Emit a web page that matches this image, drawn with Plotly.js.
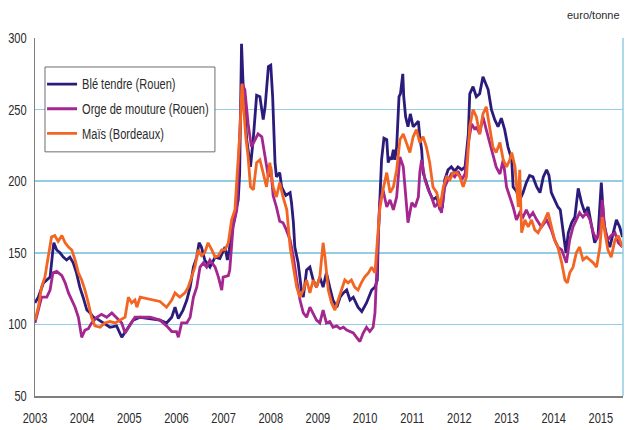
<!DOCTYPE html>
<html>
<head>
<meta charset="utf-8">
<script src="https://cdn.plot.ly/plotly-3.0.1.min.js"></script>
<style>html,body{margin:0;padding:0;background:#fff;}#chart{width:625px;height:430px;}</style>
</head>
<body>
<div id="chart"></div>
<script>
// Time in decimal years
const bleX = [2003.00,2003.07,2003.18,2003.25,2003.32,2003.38,2003.40,2003.46,2003.53,2003.60,2003.67,2003.74,2003.81,2003.88,2003.95,2004.02,2004.10,2004.17,2004.24,2004.31,2004.45,2004.59,2004.73,2004.84,2004.94,2005.08,2005.23,2005.44,2005.65,2005.79,2005.90,2005.97,2006.04,2006.14,2006.22,2006.29,2006.36,2006.43,2006.48,2006.53,2006.60,2006.71,2006.82,2006.92,2007.03,2007.08,2007.12,2007.17,2007.24,2007.31,2007.34,2007.36,2007.38,2007.41,2007.49,2007.57,2007.63,2007.70,2007.77,2007.84,2007.88,2007.95,2008.00,2008.04,2008.09,2008.12,2008.19,2008.23,2008.32,2008.41,2008.44,2008.48,2008.51,2008.58,2008.65,2008.69,2008.76,2008.83,2008.90,2008.97,2009.04,2009.11,2009.18,2009.25,2009.32,2009.40,2009.47,2009.54,2009.61,2009.68,2009.75,2009.85,2009.93,2010.03,2010.14,2010.21,2010.26,2010.28,2010.35,2010.40,2010.46,2010.49,2010.53,2010.56,2010.60,2010.63,2010.67,2010.72,2010.75,2010.80,2010.82,2010.86,2010.91,2010.96,2011.02,2011.08,2011.13,2011.16,2011.20,2011.23,2011.30,2011.37,2011.44,2011.52,2011.59,2011.64,2011.69,2011.76,2011.83,2011.90,2011.97,2012.05,2012.12,2012.19,2012.22,2012.29,2012.36,2012.43,2012.50,2012.56,2012.61,2012.68,2012.75,2012.82,2012.89,2012.96,2013.03,2013.11,2013.14,2013.21,2013.28,2013.35,2013.42,2013.49,2013.56,2013.64,2013.71,2013.78,2013.85,2013.90,2013.95,2014.02,2014.09,2014.14,2014.20,2014.26,2014.31,2014.38,2014.45,2014.52,2014.59,2014.66,2014.73,2014.80,2014.87,2014.94,2015.01,2015.06,2015.12,2015.19,2015.26,2015.33,2015.40,2015.46];
const bleY = [115,119,129,131,133,152,157,152,150,147,145,147,143,136,126,119,110,108,105,104,101,98,99,91,96,103,105,104,103,101,105,112,104,110,117,126,140,147,157,154,145,140,147,146,154,145,152,164,177,187,205,241,296,270,229,210,230,260,259,243,252,280,281,259,213,203,206,196,190,192,185,171,154,143,124,119,138,140,131,126,133,126,136,126,117,112,119,122,124,117,119,112,109,115,124,126,131,161,215,230,229,213,217,215,222,215,224,259,261,275,259,245,238,247,238,240,242,231,222,206,199,192,187,189,180,182,201,208,210,207,210,208,210,233,261,266,259,261,273,268,264,250,243,238,244,236,224,215,196,193,187,192,199,204,203,196,192,203,208,204,192,187,182,180,164,150,164,171,175,195,185,178,182,168,157,162,199,173,160,154,164,173,168,161];

const orgeX = [2003.00,2003.07,2003.14,2003.25,2003.32,2003.38,2003.46,2003.57,2003.64,2003.71,2003.78,2003.85,2003.92,2003.99,2004.06,2004.13,2004.20,2004.31,2004.41,2004.52,2004.63,2004.73,2004.84,2004.91,2005.01,2005.12,2005.23,2005.44,2005.65,2005.79,2005.90,2006.00,2006.04,2006.11,2006.22,2006.29,2006.36,2006.43,2006.50,2006.57,2006.64,2006.71,2006.82,2006.89,2006.96,2006.99,2007.10,2007.13,2007.20,2007.28,2007.35,2007.39,2007.45,2007.52,2007.59,2007.66,2007.73,2007.81,2007.88,2007.95,2008.00,2008.05,2008.12,2008.19,2008.26,2008.33,2008.41,2008.48,2008.55,2008.62,2008.69,2008.76,2008.83,2008.90,2008.97,2009.04,2009.11,2009.18,2009.25,2009.32,2009.40,2009.47,2009.54,2009.61,2009.68,2009.75,2009.82,2009.89,2009.96,2010.03,2010.10,2010.17,2010.21,2010.24,2010.28,2010.31,2010.38,2010.46,2010.53,2010.60,2010.67,2010.74,2010.81,2010.88,2010.91,2010.99,2011.06,2011.13,2011.16,2011.20,2011.27,2011.34,2011.41,2011.48,2011.55,2011.62,2011.69,2011.76,2011.83,2011.90,2011.97,2012.05,2012.12,2012.19,2012.26,2012.33,2012.36,2012.43,2012.50,2012.57,2012.64,2012.71,2012.78,2012.86,2012.93,2013.00,2013.07,2013.14,2013.21,2013.28,2013.35,2013.42,2013.49,2013.56,2013.64,2013.74,2013.85,2013.95,2014.02,2014.09,2014.17,2014.24,2014.27,2014.34,2014.41,2014.48,2014.55,2014.62,2014.70,2014.77,2014.84,2014.91,2014.98,2015.03,2015.08,2015.15,2015.22,2015.30,2015.37,2015.46];
const orgeY = [101,110,119,119,124,136,137,134,129,122,117,112,105,91,96,97,101,105,107,105,108,105,101,94,99,105,105,105,103,99,95,95,91,101,101,105,119,126,140,143,140,145,140,133,124,133,134,138,168,180,240,268,264,240,224,229,233,231,217,203,210,190,182,172,171,166,159,147,131,117,108,105,112,108,103,101,110,101,102,98,99,97,98,96,95,94,91,88,94,98,95,98,108,131,154,185,194,182,187,180,189,217,210,185,171,185,182,189,206,215,201,194,189,182,185,178,196,201,205,203,207,201,205,227,240,236,238,233,245,236,227,220,210,205,215,196,189,182,173,178,175,180,175,178,173,168,173,166,159,154,152,145,143,159,168,173,178,175,178,173,164,159,166,187,168,159,162,164,157,154];

const maisX = [2003.00,2003.07,2003.14,2003.21,2003.28,2003.35,2003.42,2003.49,2003.57,2003.64,2003.71,2003.78,2003.85,2003.92,2003.99,2004.06,2004.13,2004.20,2004.27,2004.38,2004.48,2004.59,2004.70,2004.80,2004.91,2004.98,2005.05,2005.12,2005.16,2005.23,2005.37,2005.51,2005.65,2005.79,2005.90,2005.97,2006.07,2006.18,2006.25,2006.32,2006.39,2006.46,2006.53,2006.60,2006.67,2006.75,2006.82,2006.89,2006.96,2007.03,2007.10,2007.17,2007.24,2007.28,2007.35,2007.39,2007.44,2007.47,2007.52,2007.57,2007.63,2007.70,2007.77,2007.84,2007.91,2007.98,2008.05,2008.12,2008.19,2008.26,2008.34,2008.41,2008.48,2008.55,2008.62,2008.69,2008.76,2008.83,2008.90,2008.97,2009.04,2009.11,2009.15,2009.22,2009.29,2009.36,2009.43,2009.50,2009.57,2009.64,2009.71,2009.78,2009.85,2009.92,2009.99,2010.07,2010.14,2010.21,2010.24,2010.28,2010.31,2010.38,2010.46,2010.53,2010.60,2010.67,2010.74,2010.81,2010.88,2010.95,2011.02,2011.09,2011.16,2011.23,2011.30,2011.37,2011.44,2011.52,2011.59,2011.66,2011.73,2011.80,2011.87,2011.94,2012.01,2012.08,2012.15,2012.22,2012.29,2012.36,2012.43,2012.50,2012.57,2012.64,2012.71,2012.78,2012.86,2012.93,2013.00,2013.07,2013.11,2013.18,2013.25,2013.28,2013.32,2013.39,2013.46,2013.53,2013.60,2013.67,2013.74,2013.81,2013.88,2013.95,2014.02,2014.09,2014.17,2014.24,2014.29,2014.34,2014.41,2014.48,2014.55,2014.62,2014.70,2014.77,2014.84,2014.91,2014.98,2015.03,2015.08,2015.15,2015.22,2015.30,2015.37,2015.46];
const maisY = [103,112,126,133,147,161,162,158,162,157,154,152,145,136,131,124,115,105,99,98,101,102,101,103,105,119,115,117,112,119,118,117,116,112,117,122,119,122,126,133,140,152,148,150,157,152,147,148,152,152,157,173,180,201,236,268,247,231,217,196,194,213,215,206,196,213,196,189,199,189,180,154,140,126,119,124,131,122,131,126,133,157,147,124,115,110,117,124,131,129,131,126,124,129,133,136,140,136,150,164,180,194,206,192,196,208,229,233,227,220,231,236,227,231,224,213,196,192,182,196,203,201,206,206,203,196,203,238,250,245,233,247,252,238,224,220,227,215,210,215,220,210,182,208,164,173,168,173,166,164,168,173,178,168,159,154,143,131,129,136,140,150,154,145,147,145,143,140,154,175,164,152,147,159,162,154];

const yearTicks = [2003,2004,2005,2006,2007,2008,2009,2010,2011,2012,2013,2014,2015];
const yTicks = [50,100,150,200,250,300];
const seriesNames = ["Blé tendre (Rouen)", "Orge de mouture (Rouen)", "Maïs (Bordeaux)"];
const unitLabel = "euro/tonne";

const FONT = "Liberation Sans, Arial, sans-serif";
const colors = ["#2b1b7a", "#a4268f", "#f26522"];
const TXT = "#2b2b2b";

const traces = [
  {x: bleX, y: bleY, name: seriesNames[0], legendgroup: "a", type: "scatter", mode: "lines", line: {color: colors[0], width: 2.8}},
  {x: orgeX, y: orgeY, name: seriesNames[1], legendgroup: "b", type: "scatter", mode: "lines", line: {color: colors[1], width: 2.8}},
  {x: maisX, y: maisY, name: seriesNames[2], legendgroup: "c", type: "scatter", mode: "lines", line: {color: colors[2], width: 2.8}}
];

const layout = {
  width: 625, height: 430,
  margin: {l: 35, r: 2, t: 38, b: 34},
  paper_bgcolor: "#ffffff", plot_bgcolor: "#ffffff",
  font: {family: FONT, size: 14, color: TXT},
  showlegend: true,
  legend: {
    x: 0.012, y: 0.915, xanchor: "left", yanchor: "top",
    borderwidth: 0, bgcolor: "rgba(0,0,0,0)",
    font: {family: FONT, size: 14, color: TXT},
    itemwidth: 30, tracegroupgap: 3.5, traceorder: "grouped"
  },
  xaxis: {
    type: "linear", range: [2003, 2015.47],
    tickmode: "array", tickvals: yearTicks, ticktext: yearTicks.map(String),
    showgrid: false, zeroline: false,
    showline: true, linecolor: "#7f7f7f", linewidth: 1.5,
    ticks: "", ticklabelstandoff: 9,
    tickfont: {family: FONT, size: 14, color: TXT}
  },
  yaxis: {
    range: [50, 300], tickmode: "array", tickvals: yTicks, ticktext: yTicks.map(String),
    showgrid: true, gridcolor: "#92cde4", gridwidth: 1.5,
    zeroline: false, showline: true, linecolor: "#7f7f7f", linewidth: 1.5,
    ticks: "", ticklabelstandoff: 4,
    tickfont: {family: FONT, size: 14, color: TXT}
  },
  shapes: [
    {type: "line", xref: "paper", yref: "paper", x0: 1, x1: 1, y0: 0, y1: 1, line: {color: "#92cde4", width: 1.5}},
    {type: "rect", xref: "paper", yref: "paper", x0: 0.017, x1: 0.306, y0: 0.682, y1: 0.919, layer: "above", fillcolor: "#ffffff", line: {color: "#6e6e6e", width: 1}}
  ],
  annotations: [
    {text: unitLabel, xref: "paper", yref: "paper", x: 0.998, y: 1.063, xanchor: "right", yanchor: "middle", showarrow: false, font: {family: FONT, size: 11, color: TXT}}
  ]
};

Plotly.newPlot("chart", traces, layout, {displayModeBar: false, staticPlot: true}).then(function (gd) {
  // condense the text horizontally to match the narrow face of the original
  const sel = gd.querySelectorAll(".legendtext, .xtick text, .ytick text");
  sel.forEach(function (t) {
    const w = t.getComputedTextLength();
    if (w > 0) {
      t.setAttribute("textLength", (w * 0.79).toFixed(1));
      t.setAttribute("lengthAdjust", "spacingAndGlyphs");
    }
  });
});
</script>
</body>
</html>
